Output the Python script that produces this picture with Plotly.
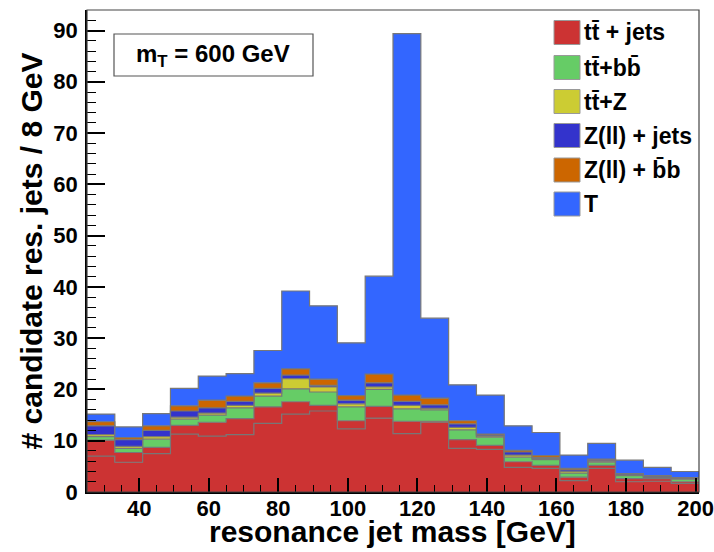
import numpy as np
import plotly.graph_objects as go

# ---------------- data ----------------
bin_edges = [25, 33, 41, 49, 57, 65, 73, 81, 89, 97, 105, 113, 121, 129,
             137, 145, 153, 161, 169, 177, 185, 193, 201]

# tt + jets (drawn as two red components in the reference stack)
tt_jets_a = [7.0, 5.8, 7.5, 11.3, 10.9, 11.2, 13.4, 15.2, 15.8, 12.3, 14.4,
             11.4, 13.6, 8.5, 8.3, 4.8, 4.6, 2.2, 4.6, 2.0, 2.1, 1.7]
tt_jets_b = [3.1, 1.9, 1.2, 1.7, 2.7, 3.1, 3.2, 2.4, 1.1, 1.6, 2.3,
             2.4, 0.2, 1.7, 0.8, 1.1, 0.6, 0.7, 0.6, 0.6, 0.5, 0.3]
tt_bb = [0.7, 0.8, 1.6, 1.2, 1.4, 2.1, 2.1, 2.5, 2.6, 2.7, 3.3,
         2.4, 2.2, 1.9, 1.6, 0.9, 1.1, 0.8, 0.6, 0.6, 0.2, 0.5]
tt_Z = [0.4, 0.4, 0.5, 0.4, 0.4, 0.5, 0.6, 2.0, 1.0, 0.6, 0.5,
        0.7, 0.3, 0.5, 0.2, 0.4, 0.2, 0.3, 0.2, 0.1, 0.1, 0.1]
z_jets = [1.7, 1.3, 1.2, 1.2, 1.0, 0.8, 0.9, 0.7, 0.3, 0.7, 0.8,
          0.8, 0.7, 0.7, 0.2, 0.6, 0.2, 0.3, 0.2, 0.2, 0.2, 0.1]
z_bb = [0.8, 0.4, 0.9, 1.0, 1.5, 1.0, 1.1, 1.2, 1.2, 0.9, 1.7,
        1.2, 1.3, 0.6, 0.2, 0.3, 0.4, 0.3, 0.2, 0.1, 0.1, 0.1]
signal_T = [1.5, 2.1, 2.4, 3.4, 4.7, 4.4, 6.3, 15.2, 14.3, 10.3, 19.1,
            70.5, 15.6, 7.0, 7.6, 4.8, 4.5, 2.6, 3.1, 2.6, 1.6, 1.2]

legend_names = ["tt\u0304 + jets", "tt\u0304+bb\u0304", "tt\u0304+Z",
                "Z(ll) + jets", "Z(ll) + b\u0304b", "T"]
x_ticks = [40, 60, 80, 100, 120, 140, 160, 180, 200]
y_ticks = [0, 10, 20, 30, 40, 50, 60, 70, 80, 90]

# ---------------- styling ----------------
C_RED = "#cc3333"
C_GREEN = "#66cc66"
C_YELLOW = "#cccc33"
C_BLUE = "#3333cc"
C_ORANGE = "#cc6600"
C_T = "#3366ff"
OUTLINE = "#777777"
FONT = "Liberation Sans"

layers = [(tt_jets_a, C_RED), (tt_jets_b, C_RED), (tt_bb, C_GREEN),
          (tt_Z, C_YELLOW), (z_jets, C_BLUE), (z_bb, C_ORANGE),
          (signal_T, C_T)]

fig = go.Figure()
cum = np.zeros(len(tt_jets_a))
edges = np.array(bin_edges, dtype=float)
for i, (vals, col) in enumerate(layers):
    cum = cum + np.array(vals, dtype=float)
    ystep = np.append(cum, cum[-1])
    fig.add_trace(go.Scatter(
        x=edges, y=ystep, mode="lines", line=dict(shape="hv", color=OUTLINE, width=1.2),
        fill="tozeroy" if i == 0 else "tonexty", fillcolor=col,
        showlegend=False, hoverinfo="skip"))

# plot area in pixels: x 87..699, y 10..492
L, R, T_, B = 87, 699, 10, 492
W, H = R - L, B - T_

def px(xp):
    return (xp - L) / W

def py(yp):
    return (B - yp) / H

shapes = []
annotations = []
# frame
shapes.append(dict(type="rect", xref="paper", yref="paper", x0=0, x1=1, y0=0, y1=1,
                   line=dict(color="#444444", width=1.2), fillcolor="rgba(0,0,0,0)", layer="above"))
# m_T box
shapes.append(dict(type="rect", xref="paper", yref="paper", x0=px(114), x1=px(313),
                   y0=py(76), y1=py(34), line=dict(color="#555555", width=1.2),
                   fillcolor="white", layer="above"))
annotations.append(dict(xref="paper", yref="paper", x=px(213), y=py(55),
                        text="<b>m<sub>T</sub> = 600 GeV</b>", showarrow=False,
                        font=dict(family=FONT, size=24, color="black"),
                        xanchor="center", yanchor="middle"))
# legend (manual, ROOT style)
leg_cols = [C_RED, C_GREEN, C_YELLOW, C_BLUE, C_ORANGE, C_T]
leg_y = [32.5, 67.5, 101.5, 135.5, 170, 204]
for name, col, yc in zip(legend_names, leg_cols, leg_y):
    shapes.append(dict(type="rect", xref="paper", yref="paper", x0=px(554), x1=px(580),
                       y0=py(yc + 12), y1=py(yc - 12), line=dict(color="#999999", width=1),
                       fillcolor=col, layer="above"))
    annotations.append(dict(xref="paper", yref="paper", x=px(582), y=py(yc),
                            text="<b>" + name + "</b>", showarrow=False,
                            font=dict(family=FONT, size=23, color="black"),
                            xanchor="left", yanchor="middle"))
# x-axis title (placed as in the reference)
annotations.append(dict(xref="paper", yref="paper", x=px(392), y=py(531),
                        text="<b>resonance jet mass [GeV]</b>", showarrow=False,
                        font=dict(family=FONT, size=30, color="black"),
                        xanchor="center", yanchor="middle"))

fig.update_layout(
    width=714, height=552,
    margin=dict(l=L, r=714 - R, t=T_, b=552 - B),
    paper_bgcolor="white", plot_bgcolor="white",
    showlegend=False,
    shapes=shapes, annotations=annotations,
    font=dict(family=FONT, color="black"),
)
fig.update_xaxes(
    range=[25, 201], tickmode="array", tickvals=x_ticks,
    ticks="inside", ticklen=14, tickwidth=1.5, tickcolor="black",
    showline=True, linecolor="black", linewidth=1.5, showgrid=False, zeroline=False,
    minor=dict(tickmode="linear", tick0=0, dtick=5, ticks="inside", ticklen=7, tickwidth=1.2,
               tickcolor="black", showgrid=False),
    tickfont=dict(family=FONT, size=22, weight="bold"),
    ticklabelstandoff=-4,
    automargin=False,
)
fig.update_yaxes(
    range=[0, 94], tickmode="array", tickvals=y_ticks,
    ticks="inside", ticklen=18, tickwidth=1.5, tickcolor="black",
    showline=True, linecolor="black", linewidth=1.5, showgrid=False, zeroline=False,
    minor=dict(tickmode="linear", tick0=0, dtick=2, ticks="inside", ticklen=9, tickwidth=1.2,
               tickcolor="black", showgrid=False),
    tickfont=dict(family=FONT, size=22, weight="bold"),
    ticklabelstandoff=3,
    title=dict(text="<b># candidate res. jets / 8 GeV</b>", font=dict(family=FONT, size=30), standoff=2),
    automargin=False,
)

fig.write_html("out.html", config={"displayModeBar": False},
               post_script="document.body.style.margin='0';")
